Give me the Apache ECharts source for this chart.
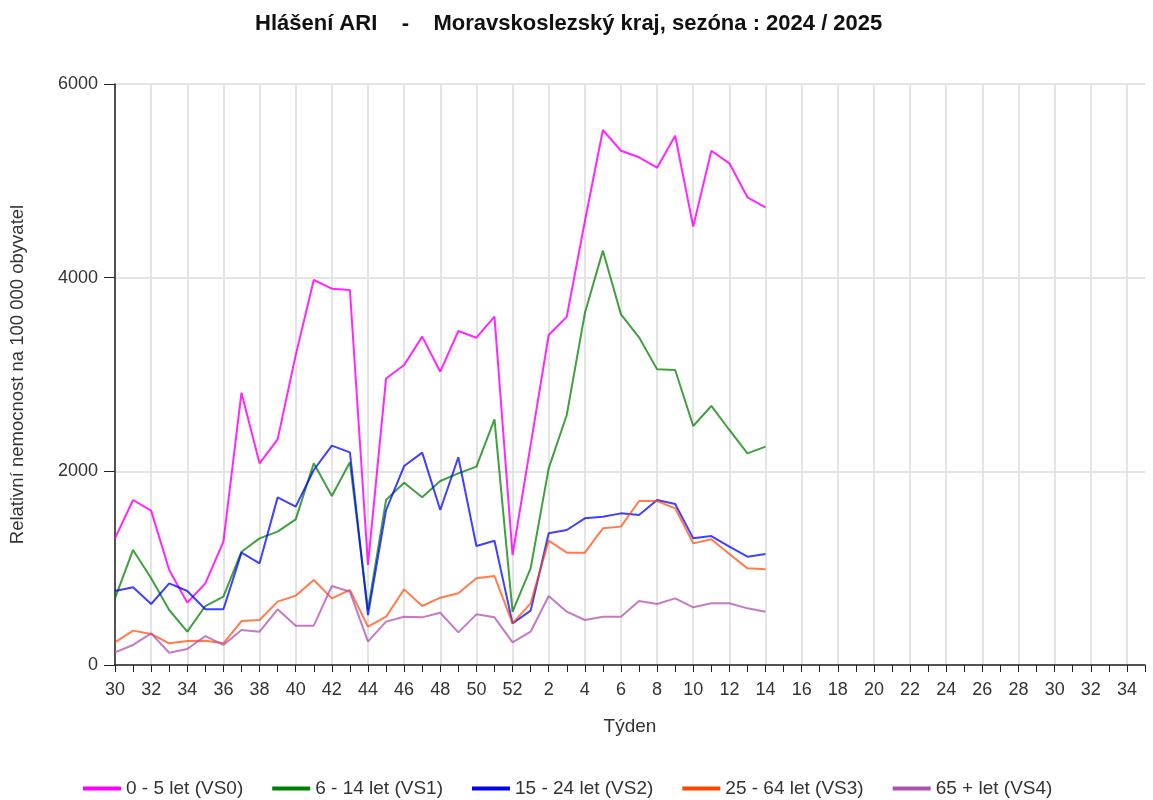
<!DOCTYPE html>
<html>
<head>
<meta charset="utf-8">
<script src="https://cdn.jsdelivr.net/npm/echarts@6/dist/echarts.min.js"></script>
<style>
html,body{margin:0;padding:0;background:#fff;}
#chart{width:1153px;height:800px;}
</style>
</head>
<body>
<div id="chart"></div>
<script>
// Weeks: 30..52 of 2024, then 1..35 of 2025
const weeks = [30,31,32,33,34,35,36,37,38,39,40,41,42,43,44,45,46,47,48,49,50,51,52,
  1,2,3,4,5,6,7,8,9,10,11,12,13,14,15,16,17,18,19,20,21,22,23,24,25,26,27,28,29,30,31,32,33,34,35];

const seriesNames = ['0 - 5 let (VS0)','6 - 14 let (VS1)','15 - 24 let (VS2)','25 - 64 let (VS3)','65 + let (VS4)'];

// values for weeks 30..52, 1..14
const vs0 = [1308,1704,1594,981,644,843,1274,2812,2083,2330,3200,3976,3886,3873,1033,2958,3098,3391,3029,3449,3380,3597,1136,
  2270,3408,3595,4580,5525,5311,5243,5136,5466,4527,5311,5181,4830,4726];
const vs1 = [688,1188,895,568,344,609,706,1170,1308,1377,1504,2083,1745,2093,570,1705,1883,1732,1900,1979,2048,2537,551,
  998,2031,2582,3632,4279,3621,3384,3053,3046,2468,2675,2427,2186,2255];
const vs2 = [764,802,630,843,764,575,575,1160,1050,1731,1635,2014,2265,2196,516,1600,2055,2193,1601,2145,1229,1284,430,
  561,1360,1394,1515,1532,1566,1549,1704,1663,1308,1332,1222,1119,1146];
const vs3 = [234,355,320,224,248,251,224,454,465,654,716,878,688,775,396,499,781,609,695,740,895,919,430,
  637,1284,1160,1160,1411,1429,1694,1694,1618,1256,1298,1146,998,988];
const vs4 = [131,207,327,127,165,299,207,361,344,575,406,406,816,757,241,448,499,492,540,337,523,492,234,
  344,713,551,465,499,499,661,630,688,596,637,637,585,551];

const yTicks = [0,2000,4000,6000];

const colors = ['#ff00ff','#008000','#0000ff','#ff4500','#b04fb0'];
const opac = [0.85,0.75,0.75,0.7,0.75];
const data = [vs0,vs1,vs2,vs3,vs4];

const FONT = '"Liberation Sans", Arial, sans-serif';
const chart = echarts.init(document.getElementById('chart'));
chart.setOption({
  animation:false,
  backgroundColor:'#fff',
  title:{
    text:'Hlášení ARI    -    Moravskoslezský kraj, sezóna : 2024 / 2025',
    left:250, top:8,
    textStyle:{fontFamily:FONT,fontWeight:'bold',fontSize:22,color:'#111'}
  },
  legend:{
    bottom:-3, left:78,
    data:seriesNames.map((n,i)=>({name:n,icon:'rect',itemStyle:{color:colors[i]}})),
    itemWidth:38,itemHeight:4,itemGap:29,
    textStyle:{fontFamily:FONT,fontSize:19,color:'#333'}
  },
  grid:{left:115,right:8,top:84,bottom:135},
  xAxis:{
    type:'category',
    data:weeks.map(String),
    boundaryGap:false,
    name:'Týden',nameLocation:'middle',nameGap:52,
    nameTextStyle:{fontFamily:FONT,fontSize:19,color:'#333'},
    axisLine:{lineStyle:{color:'#222',width:1.5}},
    axisTick:{interval:0,length:7,lineStyle:{color:'#222'}},
    axisLabel:{interval:1,margin:16,fontFamily:FONT,fontSize:18,color:'#333'},
    splitLine:{show:true,interval:1,lineStyle:{color:'#e4e4e4',width:2}}
  },
  yAxis:{
    type:'value',min:yTicks[0],max:yTicks[yTicks.length-1],interval:yTicks[1]-yTicks[0],
    name:'Relativní nemocnost na 100 000 obyvatel',nameLocation:'middle',nameGap:88,
    nameTextStyle:{fontFamily:FONT,fontSize:18.5,color:'#333'},
    axisLine:{show:true,lineStyle:{color:'#222',width:1.5}},
    axisTick:{show:true,length:11,lineStyle:{color:'#222'}},
    axisLabel:{margin:17,fontFamily:FONT,fontSize:18,color:'#333',formatter:v=>String(v)},
    splitLine:{show:true,lineStyle:{color:'#e4e4e4',width:2}}
  },
  series:data.map((d,i)=>({
    name:seriesNames[i],type:'line',data:d,
    symbol:'none',
    lineStyle:{color:colors[i],width:2,opacity:opac[i]},
    itemStyle:{color:colors[i]}
  }))
});
</script>
</body>
</html>
